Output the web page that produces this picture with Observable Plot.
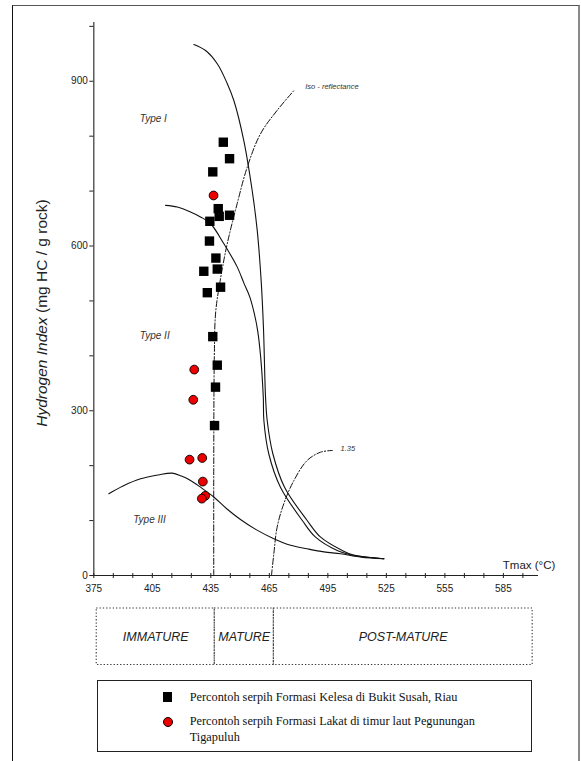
<!DOCTYPE html>
<html>
<head>
<meta charset="utf-8">
<script src="https://cdn.jsdelivr.net/npm/d3@7"></script>
<script src="https://cdn.jsdelivr.net/npm/@observablehq/plot@0.6"></script>
<style>
  html, body { margin: 0; padding: 0; background: #fff; width: 581px; height: 761px; overflow: hidden; }
  #page { position: relative; width: 581px; height: 761px; font-family: "Liberation Sans", Arial, sans-serif; }
  #frame { position: absolute; left: 11.5px; top: 4.5px; width: 565px; height: 780px;
           border-top: 1.3px solid #555; border-right: 2px solid #8a8a8a; border-left: 1.2px solid #111; }
  #chart { position: absolute; left: 0; top: 0; }
  #zones { position: absolute; left: 0; top: 600px; }
  #legend { position: absolute; left: 96.7px; top: 680px; width: 433px; height: 70px;
            border: 1.1px solid #222; font-family: "Liberation Serif", "Times New Roman", serif;
            font-size: 12.3px; color: #111; }
  .item { position: absolute; left: 92px; line-height: 16.5px; }
  .sq { position: absolute; left: 65px; width: 9.5px; height: 9.5px; background: #000; }
  .ci { position: absolute; left: 65px; width: 8px; height: 8px; border-radius: 50%; background: #ee0000; border: 0.9px solid #000; }
</style>
</head>
<body>
<div id="page">
  <div id="frame"></div>
  <div id="chart"></div>
  <div id="zones"></div>
  <div id="legend"></div>
</div>
<script>
// ---- axis ticks ----
const tmaxLabelTicks = [375, 405, 435, 465, 495, 525, 555, 585];
const tmaxMinorTicks = d3.range(375, 600, 10);
const hiLabelTicks = [0, 300, 600, 900];
const hiMinorTicks = d3.range(0, 1001, 100);

// ---- samples: Formasi Kelesa (squares) ----
const kelesaTmax = [441.4, 444.6, 436.0, 438.8, 439.3, 444.6, 434.5, 434.3, 437.6, 438.3, 431.4, 440.0, 433.2, 436.0, 438.3, 437.4, 436.9];
const kelesaHI   = [789, 759, 735, 668, 654, 656, 645, 609, 578, 558, 554, 525, 515, 435, 383, 343, 273];

// ---- samples: Formasi Lakat (red circles) ----
const lakatTmax = [436.4, 426.5, 426.0, 424.1, 430.6, 430.9, 432.1, 430.4];
const lakatHI   = [692, 375, 320, 211, 214, 171, 145, 140];

// ---- kerogen type curves ----
const typeITmax = [426.3, 432.3, 438.3, 443.4, 446.8, 451.9, 456.2, 458.8, 460.8, 462.0, 463.05, 463.9, 466.8, 472.8, 484.4, 491.3, 502.4, 507.7, 523.7];
const typeIHI   = [967, 956, 932, 896, 865, 792, 701, 628, 537, 450, 324.8, 282.3, 221.7, 160.8, 100.2, 69.8, 45.5, 37.7, 30.4];

const typeIITmax = [411.8, 417.8, 424.6, 429.7, 434.8, 441.7, 448.5, 452.0, 455.0, 457.3, 459.0, 460.5, 461.9, 462.2, 464.7, 470.7, 481.9, 488.7, 499.8, 506.6, 523.7];
const typeIIHI   = [674, 671, 662, 653, 641, 604, 562, 532, 507, 477, 446, 400, 324.8, 282.3, 221.7, 160.8, 100.2, 69.8, 45.5, 37.7, 30.4];

const typeIIITmax = [382.7, 390, 399, 408, 415.2, 420, 424.6, 430, 436.5, 443, 450.2, 458, 467.3, 475.9, 484.4, 493, 501.5, 512, 523.7];
const typeIIIHI   = [149, 163, 176, 183, 186.4, 181, 173, 160, 143, 122, 102, 84, 67, 55, 48.6, 43, 39.5, 33.5, 30.4];

// ---- iso-reflectance lines ----
const isoTmax = [436.5, 436.5, 436.8, 437.5, 440.0, 443.4, 448.5, 453.7, 460.5, 469.0, 477.6];
const isoHI   = [0, 200, 400, 480, 541, 604, 677, 744, 804.5, 847, 883];

const iso135Tmax = [466.1, 467.3, 469.0, 472.4, 477.6, 484.4, 491.3, 497.3];
const iso135HI   = [0, 39.5, 88, 130.6, 173, 209.5, 224.6, 227.7];

// ---- labels ----
const typeLabels = ["Type I", "Type II", "Type III"];
const typeLabelTmax = [398.6, 398.6, 395.2];
const typeLabelHI = [832, 437, 101.5];

// ---- maturity zones ----
const zoneNames = ["IMMATURE", "MATURE", "POST-MATURE"];
const zoneFrom = [376.5, 437, 467.3];
const zoneTo   = [437, 467.3, 600];

// ---- legend ----
const legendLabels = ["Percontoh serpih Formasi Kelesa di Bukit Susah, Riau",
                      "Percontoh serpih Formasi Lakat di timur laut Pegunungan<br>Tigapuluh"];

const zip = (xs, ys) => xs.map((x, i) => ({x, y: ys[i]}));
const kelesa = zip(kelesaTmax, kelesaHI);
const lakat = zip(lakatTmax, lakatHI);
const typeI = zip(typeITmax, typeIHI);
const typeII = zip(typeIITmax, typeIIHI);
const typeIII = zip(typeIIITmax, typeIIIHI);
const iso = zip(isoTmax, isoHI);
const iso135 = zip(iso135Tmax, iso135HI);
const typeText = typeLabels.map((t, i) => ({t, x: typeLabelTmax[i], y: typeLabelHI[i]}));
const zones = zoneNames.map((n, i) => ({n, x1: zoneFrom[i], x2: zoneTo[i]}));

const xDomain = [375, 603];
const fontSans = "'Liberation Sans', Arial, sans-serif";

const chart = Plot.plot({
  width: 581, height: 600,
  marginLeft: 93.3, marginRight: 43, marginTop: 22, marginBottom: 25,
  x: {domain: xDomain},
  y: {domain: [0, 1007]},
  style: {fontFamily: fontSans, color: "#222", background: "transparent"},
  marks: [
    Plot.ruleX([375], {y1: 0, y2: 1007, stroke: "#444", strokeWidth: 1.3}),
    Plot.ruleY([0], {x1: 375, x2: 603, stroke: "#222", strokeWidth: 1.1}),
    Plot.axisY({ticks: hiMinorTicks, tickSize: 4, tickPadding: 2, fontSize: 10, label: null,
                tickFormat: d => hiLabelTicks.includes(d) ? String(d) : ""}),
    Plot.axisX({ticks: tmaxMinorTicks, tickSize: 5, dy: -2, tickFormat: () => "", label: null}),
    Plot.axisX({ticks: tmaxLabelTicks, tickSize: 0, tickPadding: 9, fontSize: 10, label: null}),
    Plot.line(iso, {x: "x", y: "y", curve: "catmull-rom", stroke: "#111", strokeWidth: 1, strokeDasharray: "6,2,1.2,2"}),
    Plot.line(iso135, {x: "x", y: "y", curve: "catmull-rom", stroke: "#111", strokeWidth: 1, strokeDasharray: "6,2,1.2,2"}),
    Plot.line(typeI, {x: "x", y: "y", curve: "catmull-rom", stroke: "#111", strokeWidth: 1.1}),
    Plot.line(typeII, {x: "x", y: "y", curve: "catmull-rom", stroke: "#111", strokeWidth: 1.1}),
    Plot.line(typeIII, {x: "x", y: "y", curve: "catmull-rom", stroke: "#111", strokeWidth: 1.1}),
    Plot.dot(kelesa, {x: "x", y: "y", symbol: "square", r: 5.3, fill: "#000"}),
    Plot.dot(lakat, {x: "x", y: "y", r: 4.4, fill: "#ee0000", stroke: "#000", strokeWidth: 0.9}),
    Plot.text(typeText, {x: "x", y: "y", text: "t", textAnchor: "start", fontSize: 10, fontStyle: "italic", fill: "#333"}),
    Plot.text(["Iso - reflectance"], {x: 483.4, y: 890.7, textAnchor: "start", fontSize: 7.5, fontStyle: "italic", fill: "#333"}),
    Plot.text(["1.35"], {x: 501.5, y: 230.8, textAnchor: "start", fontSize: 7.5, fontStyle: "italic", fill: "#333"}),
    Plot.text(["Tmax (\u00B0C)"], {x: 584.7, y: 18, textAnchor: "start", fontSize: 11.5, fill: "#222"})
  ]
});
document.getElementById("chart").appendChild(chart);

// y-axis title with mixed styles
const svg = d3.select(chart);
const ys = chart.scale("y");
const yTitle = svg.append("text")
  .attr("transform", `translate(47,${ys.apply(477)}) rotate(-90)`)
  .attr("text-anchor", "middle")
  .attr("font-size", 15.5)
  .attr("font-family", fontSans)
  .attr("fill", "#222");
yTitle.append("tspan").attr("font-style", "italic").text("Hydrogen Index");
yTitle.append("tspan").text(" (mg HC / g rock)");

// maturity zones, sharing the x scale layout
const zonePlot = Plot.plot({
  width: 581, height: 69,
  marginLeft: 93.3, marginRight: 43, marginTop: 8, marginBottom: 4.5,
  x: {domain: xDomain, axis: null},
  y: {domain: [0, 1], axis: null},
  style: {fontFamily: fontSans, background: "transparent"},
  marks: [
    Plot.rect(zones, {x1: "x1", x2: "x2", y1: 0, y2: 1, fill: "none", stroke: "#333", strokeWidth: 1.1, strokeDasharray: "1.3,2"}),
    Plot.text(zones, {x: d => (d.x1 + d.x2) / 2, y: 0.5, text: "n", fontSize: 12.5, fontStyle: "italic", fill: "#222"})
  ]
});
document.getElementById("zones").appendChild(zonePlot);

// legend
const legend = document.getElementById("legend");
legend.innerHTML =
  `<div class="sq" style="top:11.3px"></div><div class="item" style="top:7.5px">${legendLabels[0]}</div>` +
  `<div class="ci" style="top:35.5px"></div><div class="item" style="top:31.5px">${legendLabels[1]}</div>`;
</script>
</body>
</html>
